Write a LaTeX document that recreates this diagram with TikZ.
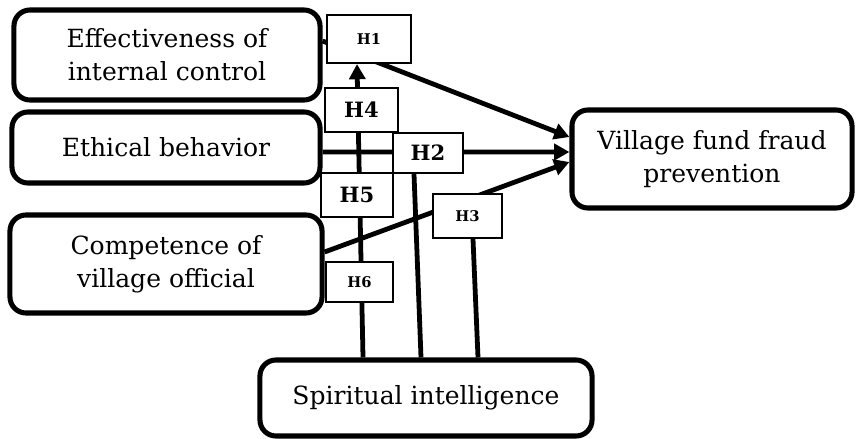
\documentclass[tikz,border=0pt]{standalone}
\usepackage{fontspec}
\setmainfont{DejaVu Serif}
\usepackage{tikz}
\usetikzlibrary{backgrounds,calc,arrows.meta}
\tikzstyle{factor} = [draw, rectangle, rounded corners=0.4cm, line width=3.6pt, align=center, font=\fontsize{17.8}{23.5}\selectfont]
\tikzstyle{hyp} = [draw, rectangle, fill=white, line width=1.5pt, inner sep=0pt]
\tikzstyle{link} = [line width=3.4pt]

\begin{document}
\begin{tikzpicture}[x=0.025cm, y=-0.025cm, >={Triangle[length=0.38cm,width=0.4cm]}]

\useasboundingbox (0,0) rectangle (856,439);

% variables
\node [factor, minimum width=7.65cm, minimum height=2.25cm] (eff) at (167,55) {Effectiveness of\\internal control};
\node [factor, minimum width=7.7cm, minimum height=1.775cm] (eth) at (166,147.5) {Ethical behavior};
\node [factor, minimum width=7.8cm, minimum height=2.45cm] (comp) at (166,264) {Competence of\\village official};
\node [factor, minimum width=7cm, minimum height=2.45cm] (vill) at (712,159) {Village fund fraud\\prevention};
\node [factor, minimum width=8.3cm, minimum height=1.9cm] (spirit) at (426,398) {Spiritual intelligence};

% hypotheses
\node [hyp, minimum width=2.1cm, minimum height=1.2cm, font=\fontsize{10.5}{12}\selectfont\bfseries] (h1) at (369,39) {H1};
\node [hyp, minimum width=1.825cm, minimum height=1.1cm, font=\fontsize{15}{18}\selectfont\bfseries] (h4) at (361.5,110) {H4};
\node [hyp, minimum width=1.75cm, minimum height=1cm, font=\fontsize{15}{18}\selectfont\bfseries] (h2) at (428,153) {H2};
\node [hyp, minimum width=1.8cm, minimum height=1.1cm, font=\fontsize{15}{18}\selectfont\bfseries] (h5) at (357,195) {H5};
\node [hyp, minimum width=1.725cm, minimum height=1.1cm, font=\fontsize{10.5}{12}\selectfont\bfseries] (h3) at (467.5,216) {H3};
\node [hyp, minimum width=1.675cm, minimum height=1cm, font=\fontsize{10.5}{12}\selectfont\bfseries] (h6) at (359.5,282) {H6};

\begin{scope}[on background layer]
\draw [link, ->] ($(eff.east)+(0,-14)$) -- ($(vill.west)+(0,-22)$);
\draw [link, ->] ($(eth.east)+(0,4.5)$) -- ($(vill.west)+(0,-7)$);
\draw [link, ->] ($(comp.east)+(0,-12)$) -- ($(vill.west)+(0,3)$);

\draw [link, ->] ($(spirit.north)+(-63,0)$) -- ($(h1.south)+(-12,0)$);
\draw [link] ($(spirit.north)+(-5,0)$) -- ($(h2.south)+(-14,0)$);
\draw [link] ($(spirit.north)+(52,0)$) -- ($(h3.south)+(5.5,0)$);
\end{scope}

\end{tikzpicture}
\end{document}
